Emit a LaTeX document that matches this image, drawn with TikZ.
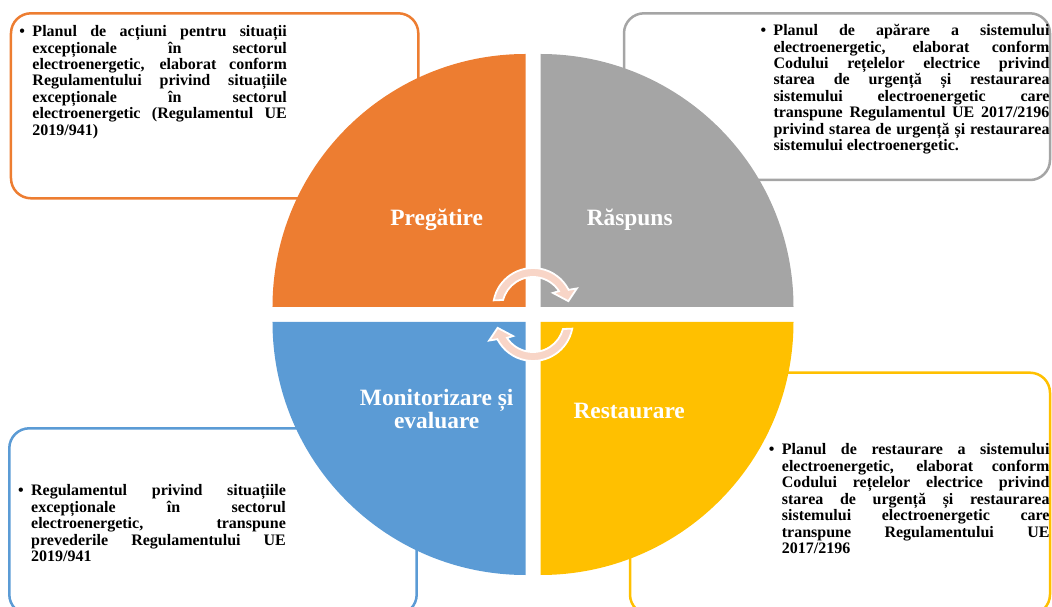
\documentclass[tikz,border=0pt]{standalone}
\usepackage{fontspec}
\setmainfont{Liberation Serif}
\usepackage{tikz}
\usetikzlibrary{calc}
\definecolor{ph_orange}{RGB}{237, 125, 49}
\definecolor{ph_grey}{RGB}{165, 165, 165}
\definecolor{ph_yellow}{RGB}{255, 192, 0}
\definecolor{ph_blue}{RGB}{91, 155, 213}
\definecolor{ph_pink}{RGB}{248, 213, 199}
\hyphenpenalty=10000
\exhyphenpenalty=10000
\tolerance=10000
\newcommand{\bp}[1]{\hangindent=13pt\hangafter=1\noindent\makebox[13pt][l]{\textbullet}#1\par}
\tikzstyle{ob}=[rounded corners=20pt,line width=2.5pt,draw=ph_orange]
\tikzstyle{gb}=[rounded corners=20pt,line width=2.5pt,draw=ph_grey]
\tikzstyle{yb}=[rounded corners=20pt,line width=2.5pt,draw=ph_yellow]
\tikzstyle{bb}=[rounded corners=20pt,line width=2.5pt,draw=ph_blue]
\tikzstyle{txt}=[anchor=base west,inner sep=0pt,align=justify,
  font=\fontsize{16}{16.4}\selectfont\bfseries]
\tikzstyle{lbl}=[anchor=base,inner sep=0pt,text=white,align=center,
  font=\fontsize{23.4}{21.6}\selectfont\bfseries]
\tikzstyle{cyc}=[fill=ph_pink,draw=white,line width=1.8pt]
\tikzstyle{none}=[]

\begin{document}
\begin{tikzpicture}[x=1pt,y=1pt]
            \useasboundingbox (-533,-292.5) rectangle (519,314.5);
            % boxes behind the wheel
            \draw [style=ob] (-522,301.2) rectangle (-114.7,116.2);
            \draw [style=gb] (91,301.2) rectangle (517,134.5);
            \draw [style=yb] (97,-58.2) rectangle (517,-300);
            \draw [style=bb] (-523.7,-113.8) rectangle (-116.3,-300);
            % quarter corners
            \node [style=none] (1) at (-7.5, 7.5) {};
            \node [style=none] (2) at (7.5, 7.5) {};
            \node [style=none] (3) at (7.5, -7.5) {};
            \node [style=none] (4) at (-7.5, -7.5) {};
            \fill [ph_orange] (1.center) -- ++(-253,0) arc[start angle=180,end angle=90,radius=253] -- cycle;
            \fill [ph_grey] (2.center) -- ++(0,253) arc[start angle=90,end angle=0,radius=253] -- cycle;
            \fill [ph_yellow] (3.center) -- ++(253,0) arc[start angle=0,end angle=-90,radius=253] -- cycle;
            \fill [ph_blue] (4.center) -- ++(0,-253) arc[start angle=270,end angle=180,radius=253] -- cycle;
            % labels
            \node [style=lbl] (5) at (-96.3, 88.8) {Pregătire};
            \node [style=lbl] (6) at (96.7, 88.8) {Răspuns};
            \node [style=lbl] (7) at (96.2, -103.8) {Restaurare};
            \node [style=lbl] (8) at (-96.3, -113.8) {Monitorizare și\\evaluare};
            % cycle arrows
            \begin{scope}[shift={(0,6.5)}]
                \filldraw [style=cyc] (169:40) arc[start angle=169,end angle=27,radius=40]
                    -- (24:48) -- (11:36) -- (37:25) -- (33:31)
                    arc[start angle=33,end angle=165,radius=31] -- cycle;
            \end{scope}
            \begin{scope}[shift={(0,-6.5)}]
                \filldraw [style=cyc] (349:40) arc[start angle=349,end angle=207,radius=40]
                    -- (204:48) -- (191:36) -- (217:25) -- (213:31)
                    arc[start angle=213,end angle=345,radius=31] -- cycle;
            \end{scope}
            % texts
            \node [style=txt,text width=267.4pt] (9) at (-513.7, 277.8) {\bp{Planul de acțiuni pentru situații\linebreak
              excepționale în sectorul\linebreak
              electroenergetic, elaborat conform\linebreak
              Regulamentului privind situațiile\linebreak
              excepționale în sectorul\linebreak
              electroenergetic (Regulamentul UE\linebreak
              2019/941)}};
            \node [style=txt,text width=289pt] (10) at (227.3, 278.8) {\bp{Planul de apărare a sistemului\linebreak
              electroenergetic, elaborat conform\linebreak
              Codului rețelelor electrice privind\linebreak
              starea de urgență și restaurarea\linebreak
              sistemului electroenergetic care\linebreak
              transpune Regulamentul UE 2017/2196\linebreak
              privind starea de urgență și restaurarea\linebreak
              sistemului electroenergetic.}};
            \node [style=txt,text width=280.6pt] (11) at (235.7, -140.5) {\bp{Planul de restaurare a sistemului\linebreak
              electroenergetic, elaborat conform\linebreak
              Codului rețelelor electrice privind\linebreak
              starea de urgență și restaurarea\linebreak
              sistemului electroenergetic care\linebreak
              transpune Regulamentului UE\linebreak
              2017/2196}};
            \node [style=txt,text width=267.7pt] (12) at (-515, -181.5) {\bp{Regulamentul privind situațiile\linebreak
              excepționale în sectorul\linebreak
              electroenergetic, transpune\linebreak
              prevederile Regulamentului UE\linebreak
              2019/941}};
\end{tikzpicture}
\end{document}
